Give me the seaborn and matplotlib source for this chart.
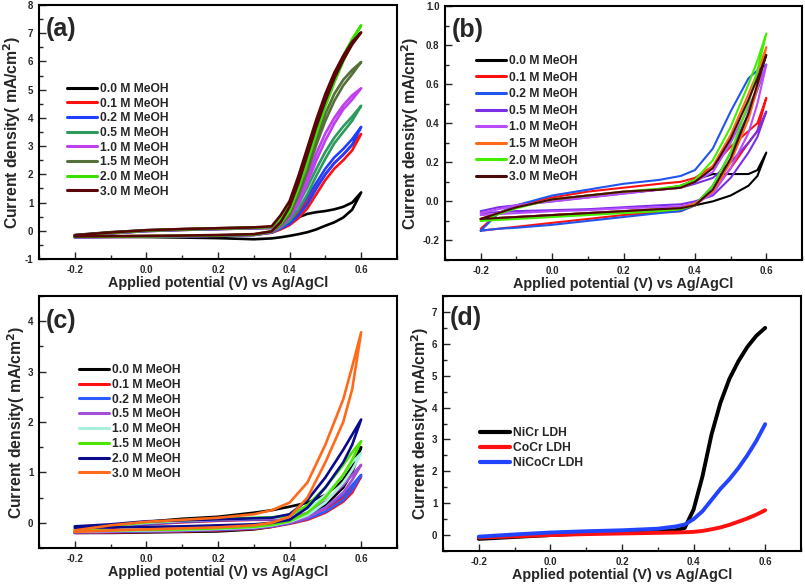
import matplotlib
matplotlib.use("Agg")
import matplotlib.pyplot as plt
from matplotlib.ticker import MultipleLocator, FormatStrFormatter
import seaborn as sns

# panel (a): NiCr-type CVs, MeOH series
A_E = [-0.2, -0.1, 0.0, 0.1, 0.2, 0.3, 0.35, 0.375, 0.4, 0.425, 0.45, 0.475, 0.5, 0.525, 0.55, 0.575, 0.6]
A_LABELS = ["0.0 M MeOH", "0.1 M MeOH", "0.2 M MeOH", "0.5 M MeOH",
            "1.0 M MeOH", "1.5 M MeOH", "2.0 M MeOH", "3.0 M MeOH"]
A_COLORS = ["#000000", "#ff1010", "#1f3fff", "#2e9a5e", "#c040f0", "#56703a", "#3ae000", "#5a0606"]
A_UPPER = [
    [-0.15, -0.05, 0.02, 0.06, 0.09, 0.11, 0.12, 0.2, 0.35, 0.48, 0.6, 0.66, 0.7, 0.76, 0.85, 1.0, 1.36],
    [-0.19, -0.09, -0.01, 0.03, 0.06, 0.09, 0.1, 0.15, 0.35, 0.65, 1.05, 1.55, 2.0, 2.4, 2.7, 3.05, 3.43],
    [-0.19, -0.09, -0.01, 0.03, 0.06, 0.09, 0.1, 0.2, 0.4, 0.75, 1.2, 1.7, 2.2, 2.6, 2.9, 3.25, 3.68],
    [-0.18, -0.08, 0.0, 0.04, 0.07, 0.1, 0.12, 0.25, 0.5, 0.95, 1.55, 2.2, 2.8, 3.3, 3.7, 4.05, 4.43],
    [-0.18, -0.08, 0.0, 0.04, 0.07, 0.1, 0.12, 0.3, 0.6, 1.15, 1.95, 2.75, 3.45, 4.0, 4.45, 4.8, 5.05],
    [-0.17, -0.07, 0.01, 0.05, 0.08, 0.11, 0.13, 0.4, 0.75, 1.5, 2.4, 3.3, 4.15, 4.85, 5.35, 5.7, 5.98],
    [-0.17, -0.07, 0.01, 0.05, 0.08, 0.11, 0.14, 0.45, 0.9, 1.75, 2.7, 3.7, 4.65, 5.5, 6.2, 6.8, 7.28],
    [-0.16, -0.06, 0.02, 0.06, 0.09, 0.12, 0.16, 0.55, 1.05, 1.95, 2.95, 3.95, 4.85, 5.6, 6.2, 6.7, 7.03],
]
A_LOWER = [
    [-0.2, -0.21, -0.22, -0.24, -0.26, -0.3, -0.27, -0.23, -0.18, -0.12, -0.05, 0.05, 0.18, 0.3, 0.47, 0.75, 1.36],
    [-0.23, -0.22, -0.21, -0.2, -0.18, -0.15, -0.07, 0.05, 0.2, 0.45, 0.8, 1.3, 1.8, 2.2, 2.5, 2.85, 3.43],
    [-0.23, -0.22, -0.21, -0.2, -0.18, -0.15, -0.06, 0.08, 0.25, 0.55, 0.95, 1.5, 2.0, 2.4, 2.7, 3.05, 3.68],
    [-0.22, -0.21, -0.2, -0.19, -0.17, -0.14, -0.05, 0.12, 0.35, 0.75, 1.3, 1.95, 2.55, 3.1, 3.5, 3.9, 4.43],
    [-0.22, -0.21, -0.2, -0.19, -0.17, -0.14, -0.04, 0.15, 0.45, 0.95, 1.7, 2.5, 3.2, 3.8, 4.3, 4.65, 5.05],
    [-0.21, -0.2, -0.19, -0.18, -0.16, -0.13, -0.03, 0.2, 0.55, 1.25, 2.1, 3.05, 3.9, 4.6, 5.15, 5.55, 5.98],
    [-0.21, -0.2, -0.19, -0.18, -0.16, -0.13, -0.02, 0.25, 0.7, 1.5, 2.45, 3.45, 4.4, 5.25, 6.0, 6.7, 7.28],
    [-0.2, -0.19, -0.18, -0.17, -0.15, -0.12, -0.02, 0.3, 0.85, 1.7, 2.7, 3.7, 4.6, 5.4, 6.05, 6.6, 7.03],
]

# panel (b)
B_E = [-0.2, -0.15, -0.1, 0.0, 0.1, 0.2, 0.3, 0.36, 0.4, 0.45, 0.5, 0.55, 0.575, 0.6]
B_LABELS = A_LABELS
B_COLORS = ["#000000", "#ff1010", "#2255ee", "#7a2ee6", "#b84dff", "#ff6a1a", "#44ee00", "#4a0a0a"]
B_UPPER = [
    [-0.09, -0.06, -0.03, 0.01, 0.03, 0.045, 0.06, 0.08, 0.11, 0.14, 0.14, 0.14, 0.16, 0.25],
    [-0.14, -0.06, -0.02, 0.02, 0.05, 0.07, 0.09, 0.1, 0.12, 0.18, 0.28, 0.36, 0.4, 0.53],
    [-0.15, -0.06, -0.02, 0.03, 0.06, 0.09, 0.11, 0.13, 0.16, 0.27, 0.46, 0.63, 0.67, 0.7],
    [-0.05, -0.03, -0.02, 0.0, 0.02, 0.04, 0.06, 0.07, 0.09, 0.12, 0.2, 0.3, 0.36, 0.46],
    [-0.06, -0.04, -0.02, 0.0, 0.02, 0.04, 0.06, 0.07, 0.1, 0.15, 0.3, 0.48, 0.58, 0.7],
    [-0.09, -0.06, -0.03, 0.01, 0.03, 0.05, 0.06, 0.07, 0.1, 0.18, 0.34, 0.55, 0.66, 0.79],
    [-0.1, -0.065, -0.035, 0.01, 0.03, 0.05, 0.065, 0.08, 0.11, 0.21, 0.38, 0.6, 0.72, 0.86],
    [-0.09, -0.06, -0.03, 0.01, 0.03, 0.05, 0.06, 0.07, 0.1, 0.17, 0.32, 0.52, 0.63, 0.75],
]
B_LOWER = [
    [-0.09, -0.085, -0.08, -0.07, -0.06, -0.05, -0.04, -0.035, -0.02, 0.0, 0.03, 0.08, 0.13, 0.25],
    [-0.15, -0.14, -0.13, -0.11, -0.09, -0.07, -0.055, -0.05, -0.02, 0.05, 0.17, 0.3, 0.36, 0.53],
    [-0.15, -0.14, -0.135, -0.12, -0.1, -0.08, -0.06, -0.05, -0.02, 0.08, 0.25, 0.45, 0.57, 0.7],
    [-0.06, -0.055, -0.05, -0.045, -0.04, -0.03, -0.02, -0.015, 0.0, 0.03, 0.12, 0.25, 0.33, 0.46],
    [-0.07, -0.065, -0.06, -0.05, -0.045, -0.035, -0.03, -0.025, -0.01, 0.04, 0.17, 0.35, 0.5, 0.7],
    [-0.09, -0.085, -0.08, -0.07, -0.06, -0.05, -0.04, -0.035, -0.01, 0.05, 0.2, 0.42, 0.58, 0.79],
    [-0.1, -0.095, -0.09, -0.08, -0.07, -0.06, -0.05, -0.04, -0.02, 0.08, 0.25, 0.5, 0.67, 0.86],
    [-0.09, -0.085, -0.08, -0.07, -0.06, -0.05, -0.04, -0.035, -0.02, 0.06, 0.22, 0.45, 0.6, 0.75],
]

# panel (c)
C_E = [-0.2, -0.1, 0.0, 0.1, 0.2, 0.3, 0.35, 0.4, 0.45, 0.5, 0.55, 0.575, 0.6]
C_LABELS = A_LABELS
C_COLORS = ["#000000", "#ff1010", "#2a5cff", "#a44dd8", "#a8f0dc", "#4ce600", "#0a0a8c", "#ff6a1a"]
C_UPPER = [
    [-0.15, -0.05, 0.02, 0.08, 0.12, 0.2, 0.25, 0.32, 0.4, 0.55, 0.85, 1.15, 1.5],
    [-0.18, -0.1, -0.03, 0.01, 0.04, 0.06, 0.06, 0.06, 0.12, 0.28, 0.5, 0.7, 0.92],
    [-0.17, -0.09, -0.02, 0.02, 0.05, 0.07, 0.07, 0.07, 0.14, 0.3, 0.55, 0.75, 0.95],
    [-0.16, -0.08, -0.01, 0.03, 0.06, 0.08, 0.08, 0.09, 0.2, 0.42, 0.75, 0.95, 1.15],
    [-0.15, -0.07, 0.0, 0.04, 0.07, 0.09, 0.1, 0.12, 0.28, 0.55, 0.95, 1.2, 1.38],
    [-0.14, -0.06, 0.01, 0.05, 0.08, 0.1, 0.11, 0.14, 0.35, 0.7, 1.15, 1.4, 1.62],
    [-0.07, -0.03, 0.03, 0.05, 0.07, 0.09, 0.1, 0.17, 0.45, 0.9, 1.45, 1.75, 2.05],
    [-0.15, -0.05, 0.02, 0.06, 0.1, 0.17, 0.25, 0.4, 0.8, 1.55, 2.45, 3.1, 3.78],
]
C_LOWER = [
    [-0.2, -0.2, -0.19, -0.18, -0.17, -0.13, -0.08, 0.0, 0.15, 0.35, 0.7, 1.0, 1.5],
    [-0.2, -0.19, -0.18, -0.17, -0.15, -0.12, -0.08, -0.02, 0.06, 0.2, 0.42, 0.6, 0.92],
    [-0.19, -0.18, -0.17, -0.16, -0.14, -0.11, -0.07, -0.01, 0.08, 0.22, 0.45, 0.65, 0.95],
    [-0.18, -0.17, -0.16, -0.15, -0.13, -0.1, -0.06, 0.0, 0.1, 0.3, 0.6, 0.85, 1.15],
    [-0.17, -0.16, -0.15, -0.14, -0.12, -0.09, -0.05, 0.02, 0.15, 0.4, 0.8, 1.05, 1.38],
    [-0.16, -0.15, -0.14, -0.13, -0.11, -0.08, -0.04, 0.03, 0.2, 0.5, 0.95, 1.25, 1.62],
    [-0.1, -0.09, -0.08, -0.07, -0.05, -0.03, 0.0, 0.06, 0.3, 0.7, 1.2, 1.55, 2.05],
    [-0.18, -0.15, -0.13, -0.11, -0.09, -0.05, 0.0, 0.12, 0.5, 1.2, 2.0, 2.65, 3.78],
]

# panel (d): LSV comparison
D_E = [-0.2, -0.1, 0.0, 0.1, 0.2, 0.3, 0.35, 0.375, 0.4, 0.425, 0.45, 0.475, 0.5, 0.525, 0.55, 0.575, 0.6]
D_LABELS = ["NiCr LDH", "CoCr LDH", "NiCoCr LDH"]
D_COLORS = ["#000000", "#ff1010", "#2244ff"]
D_NICR = [-0.12, -0.06, 0.0, 0.05, 0.1, 0.13, 0.15, 0.22, 0.8, 1.85, 3.15, 4.15, 4.9, 5.45, 5.9, 6.25, 6.5]
D_COCR = [-0.08, -0.04, 0.0, 0.03, 0.05, 0.07, 0.08, 0.09, 0.1, 0.13, 0.18, 0.24, 0.32, 0.42, 0.52, 0.64, 0.78]
D_NICOCR = [-0.05, 0.02, 0.08, 0.12, 0.15, 0.2, 0.27, 0.33, 0.5, 0.75, 1.1, 1.45, 1.75, 2.1, 2.5, 2.95, 3.48]

sns.set_style("ticks")
plt.rcParams['font.family'] = ['Liberation Sans', 'DejaVu Sans']
plt.rcParams['font.weight'] = 'bold'
plt.rcParams['axes.unicode_minus'] = False
plt.rcParams['mathtext.default'] = 'bf'

XLABEL = "Applied potential (V) vs Ag/AgCl"
YLABEL = "Current density( mA/cm$^2$)"


def style_axes(ax, ylim, ymajor, yfmt, tag, tag_y):
    ax.set_xlim(-0.3, 0.7)
    ax.set_ylim(*ylim)
    ax.xaxis.set_major_locator(MultipleLocator(0.2))
    ax.xaxis.set_minor_locator(MultipleLocator(0.1))
    ax.yaxis.set_major_locator(MultipleLocator(ymajor))
    ax.yaxis.set_minor_locator(MultipleLocator(ymajor / 2))
    ax.xaxis.set_major_formatter(FormatStrFormatter('%.1f'))
    ax.yaxis.set_major_formatter(FormatStrFormatter(yfmt))
    ax.tick_params(which='major', direction='in', length=5, width=1, labelsize=7, pad=4)
    ax.tick_params(which='minor', direction='in', length=3, width=1)
    for lab in ax.get_xticklabels() + ax.get_yticklabels():
        lab.set_fontweight('bold')
    for sp in ax.spines.values():
        sp.set_visible(True)
        sp.set_linewidth(1.5)
        sp.set_color('black')
    ax.set_xlabel(XLABEL, fontsize=10.4, fontweight='bold', labelpad=1)
    ax.set_ylabel(YLABEL, fontsize=11.3, fontweight='bold', labelpad=1)
    ax.text(0.02, tag_y, tag, transform=ax.transAxes, fontsize=18, fontweight='bold',
            va='center', ha='left')


def draw_loops(ax, E, upper, lower, labels, colors, lw):
    for up, lo, lab, c in zip(upper, lower, labels, colors):
        x = list(E) + list(E[::-1])
        y = list(up) + list(lo[::-1])
        sns.lineplot(x=x, y=y, sort=False, estimator=None, color=c, lw=lw, label=lab, ax=ax)


def add_legend(ax, x, y, spacing, lw=2.2):
    leg = ax.legend(loc='upper left', bbox_to_anchor=(x, y), frameon=False, borderpad=0,
                    borderaxespad=0, handlelength=2.5, handletextpad=0.25,
                    labelspacing=spacing, prop={'weight': 'bold', 'size': 8.7})
    for h in leg.get_lines():
        h.set_linewidth(lw)


fig = plt.figure(figsize=(8.05, 5.84), dpi=100)
ax_a = fig.add_axes([0.0484, 0.5565, 0.4447, 0.4349])
ax_b = fig.add_axes([0.5528, 0.5548, 0.4435, 0.4349])
ax_c = fig.add_axes([0.0484, 0.0616, 0.4447, 0.4315])
ax_d = fig.add_axes([0.5503, 0.0565, 0.4447, 0.4366])

draw_loops(ax_a, A_E, A_UPPER, A_LOWER, A_LABELS, A_COLORS, 1.9)
style_axes(ax_a, (-1, 8), 1, '%d', '(a)', 0.905)
add_legend(ax_a, 0.078, 0.693, 0.22)

draw_loops(ax_b, B_E, B_UPPER, B_LOWER, B_LABELS, B_COLORS, 1.5)
style_axes(ax_b, (-0.3, 1.0), 0.2, '%.1f', '(b)', 0.905)
add_legend(ax_b, 0.087, 0.807, 0.38)

draw_loops(ax_c, C_E, C_UPPER, C_LOWER, C_LABELS, C_COLORS, 1.9)
style_axes(ax_c, (-0.5, 4.5), 1, '%d', '(c)', 0.9)
add_legend(ax_c, 0.112, 0.730, 0.23)

for vals, lab, c in zip([D_NICR, D_COCR, D_NICOCR], D_LABELS, D_COLORS):
    sns.lineplot(x=D_E, y=vals, sort=False, estimator=None, color=c, lw=2.8, label=lab, ax=ax_d)
style_axes(ax_d, (-0.5, 7.5), 1, '%d', '(d)', 0.915)
add_legend(ax_d, 0.103, 0.487, 0.26, lw=3.0)

fig.savefig("out.png", dpi=100)
